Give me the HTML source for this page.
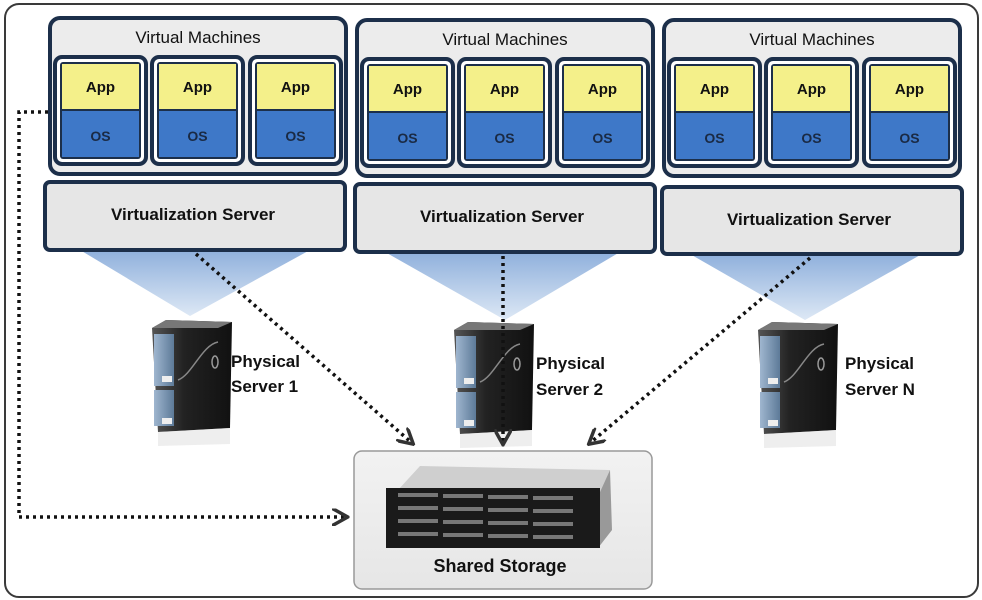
<!DOCTYPE html>
<html><head><meta charset="utf-8"><style>
html,body{margin:0;padding:0;background:#fff;}
svg{display:block;font-family:"Liberation Sans",sans-serif;}
</style></head><body>
<svg width="982" height="600" viewBox="0 0 982 600" xmlns="http://www.w3.org/2000/svg">
<defs>
<linearGradient id="tri" x1="0" y1="0" x2="0" y2="1"><stop offset="0" stop-color="#8fb0dc"/><stop offset="1" stop-color="#dde8f5"/></linearGradient>
<linearGradient id="tw" x1="0" y1="0" x2="1" y2="0"><stop offset="0" stop-color="#555"/><stop offset="0.4" stop-color="#222"/><stop offset="1" stop-color="#111"/></linearGradient>
<linearGradient id="tf" x1="0" y1="0" x2="1" y2="0"><stop offset="0" stop-color="#9fb6cf"/><stop offset="1" stop-color="#5d7a98"/></linearGradient>
<linearGradient id="st" x1="0" y1="0" x2="0" y2="1"><stop offset="0" stop-color="#f2f2f2"/><stop offset="1" stop-color="#e6e6e6"/></linearGradient>
<g id="vm">
<rect x="0" y="0" width="91" height="107" rx="7" fill="#fff" stroke="#1c2f4a" stroke-width="4"/>
<rect x="5" y="5" width="81" height="97" rx="3" fill="#1c2f4a"/>
<rect x="7" y="7" width="77" height="45" fill="#f4f08a"/>
<rect x="7" y="54" width="77" height="46" fill="#3e78c8"/>
<text x="45.5" y="35" font-size="15" font-weight="bold" text-anchor="middle" fill="#111">App</text>
<text x="45.5" y="84" font-size="14" font-weight="bold" text-anchor="middle" fill="#1a2a44">OS</text>
</g>
<g id="grp">
<rect x="0" y="0" width="296" height="156" rx="10" fill="#ececec" stroke="#1c2f4a" stroke-width="4"/>
<text x="148" y="25" font-size="17" text-anchor="middle" fill="#111">Virtual Machines</text>
<use href="#vm" x="5" y="39"/>
<use href="#vm" x="102" y="39"/>
<use href="#vm" x="200" y="39"/>
</g>
<g id="srv">
<polygon points="0,8 14,0 80,2 78,108 6,112" fill="url(#tw)"/>
<polygon points="0,8 14,0 80,2 66,8" fill="#777"/>
<rect x="2" y="14" width="20" height="52" fill="url(#tf)"/>
<rect x="2" y="70" width="20" height="36" fill="url(#tf)"/>
<rect x="10" y="56" width="10" height="6" fill="#eee"/>
<rect x="10" y="98" width="10" height="6" fill="#eee"/>
<path d="M26,60 C40,55 50,25 66,22" stroke="#888" stroke-width="1.5" fill="none"/>
<ellipse cx="63" cy="42" rx="3" ry="6" fill="none" stroke="#999" stroke-width="1.5"/>
<polygon points="6,112 78,108 78,124 6,126" fill="#ddd" opacity="0.5"/>
</g>
<marker id="ar" viewBox="0 0 10 10" refX="8" refY="5" markerWidth="5" markerHeight="5" orient="auto"><path d="M0,0 L9,5 L0,10" fill="none" stroke="#333" stroke-width="2"/></marker>
</defs>
<rect x="5" y="4" width="973" height="593" rx="14" fill="#fff" stroke="#3a3a3a" stroke-width="2"/>
<polygon points="80,250 310,250 190,316" fill="url(#tri)"/>
<polygon points="385,252 620,252 505,320" fill="url(#tri)"/>
<polygon points="690,254 922,254 805,320" fill="url(#tri)"/>
<use href="#grp" x="50" y="18"/>
<use href="#grp" x="357" y="20"/>
<use href="#grp" x="664" y="20"/>
<g font-size="17" font-weight="bold" fill="#111" text-anchor="middle">
<rect x="45" y="182" width="300" height="68" rx="5" fill="#e6e6e6" stroke="#1c2f4a" stroke-width="4"/>
<text x="193" y="220">Virtualization  Server</text>
<rect x="355" y="184" width="300" height="68" rx="5" fill="#e6e6e6" stroke="#1c2f4a" stroke-width="4"/>
<text x="502" y="222">Virtualization  Server</text>
<rect x="662" y="187" width="300" height="67" rx="5" fill="#e6e6e6" stroke="#1c2f4a" stroke-width="4"/>
<text x="809" y="225">Virtualization  Server</text>
</g>
<use href="#srv" x="152" y="320"/>
<use href="#srv" x="454" y="322"/>
<use href="#srv" x="758" y="322"/>
<g font-size="17" fill="#111" font-weight="bold">
<text x="231" y="367">Physical</text><text x="231" y="392">Server 1</text>
<text x="536" y="369">Physical</text><text x="536" y="395">Server 2</text>
<text x="845" y="369">Physical</text><text x="845" y="395">Server N</text>
</g>
<rect x="354" y="451" width="298" height="138" rx="8" fill="url(#st)" stroke="#999" stroke-width="1.5"/>
<polygon points="398,490 420,466 610,470 600,492" fill="#cfcfcf"/>
<polygon points="600,492 610,470 612,530 598,548" fill="#999"/>
<rect x="386" y="488" width="214" height="60" fill="#1a1a1a"/>
<g fill="#777">
<rect x="398" y="493" width="40" height="4"/><rect x="443" y="494" width="40" height="4"/><rect x="488" y="495" width="40" height="4"/><rect x="533" y="496" width="40" height="4"/>
<rect x="398" y="506" width="40" height="4"/><rect x="443" y="507" width="40" height="4"/><rect x="488" y="508" width="40" height="4"/><rect x="533" y="509" width="40" height="4"/>
<rect x="398" y="519" width="40" height="4"/><rect x="443" y="520" width="40" height="4"/><rect x="488" y="521" width="40" height="4"/><rect x="533" y="522" width="40" height="4"/>
<rect x="398" y="532" width="40" height="4"/><rect x="443" y="533" width="40" height="4"/><rect x="488" y="534" width="40" height="4"/><rect x="533" y="535" width="40" height="4"/>
</g>
<text x="500" y="572" font-size="18" text-anchor="middle" fill="#111" font-weight="bold">Shared Storage</text>
<g stroke="#111" stroke-width="3.5" stroke-dasharray="3,4" fill="none">
<polyline points="48,112 19,112 19,517 346,517" marker-end="url(#ar)"/>
<line x1="196" y1="254" x2="412" y2="443" marker-end="url(#ar)"/>
<line x1="503" y1="256" x2="503" y2="443" marker-end="url(#ar)"/>
<line x1="810" y1="258" x2="590" y2="443" marker-end="url(#ar)"/>
</g>
</svg>
</body></html>
